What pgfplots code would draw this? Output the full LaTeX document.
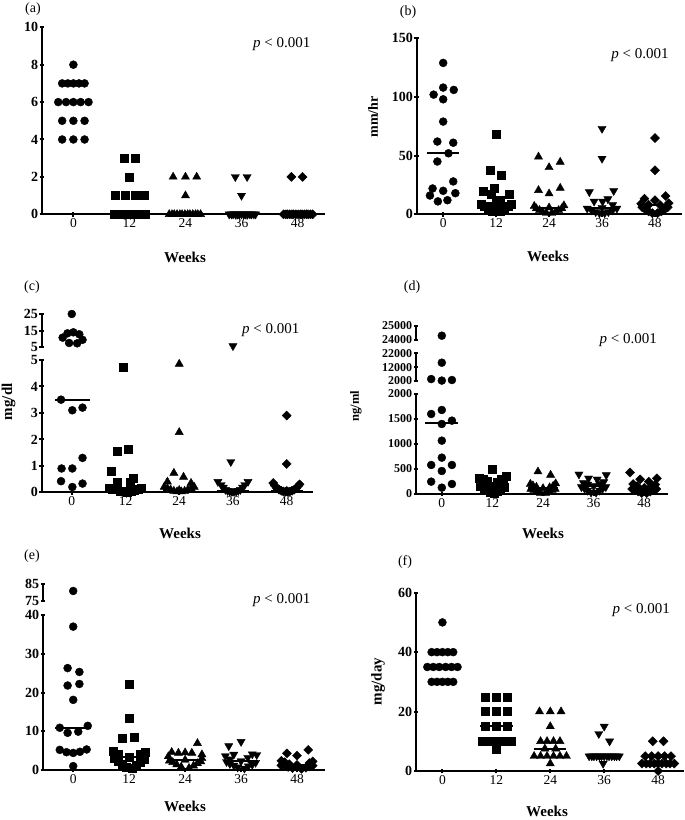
\documentclass[border=0pt]{standalone}
\usepackage{fontspec}
\setmainfont{Liberation Serif}
\usepackage{pgfplots}
\pgfplotsset{compat=1.18}
\pgfplotsset{
  base/.style={scale only axis, clip=false, anchor=south west,
    tick align=outside, major tick length=4.5pt,
    yticklabel={\pgfmathprintnumber[assume math mode=true,1000 sep={}]{\tick}},
    yticklabel style={font=\fontsize{14}{14}\selectfont\bfseries, inner sep=1.5pt},
    scaled y ticks=false},
  lines/.style={axis line style={-, line width=2pt, black},
    every outer x axis line/.append style={-},
    every outer y axis line/.append style={-},
    x axis line style={-}, y axis line style={-},
    tick style={black, line width=2pt}},
  lowax/.style={base, axis x line=bottom, axis y line=left, lines,
    xtick={0,1,2,3,4}, xticklabels={0,12,24,36,48},
    xticklabel style={font=\fontsize{13.5}{13.5}\selectfont, inner sep=2pt}},
  upax/.style={base, axis x line=none, axis y line=left, lines, xtick=\empty},
  circ/.style={only marks, mark=*, mark size=4pt, black, mark options={fill=black}},
  sq/.style={only marks, mark=square*, mark size=4pt, black, mark options={fill=black}},
  tri/.style={only marks, mark=triangle*, mark size=4.7pt, black, mark options={fill=black}},
  dtri/.style={only marks, mark=triangle*, mark size=4.7pt, black, mark options={fill=black, rotate=180}},
  dia/.style={only marks, mark=square*, mark size=3.2pt, black, mark options={fill=black, rotate=45}},
  med/.style={black, line width=2pt, no marks},
}
\newcommand{\pval}{{\itshape p} \textless{} 0.001}
\begin{document}
\begin{tikzpicture}[x=1pt,y=1pt]
\path[use as bounding box] (0,0) rectangle (685,820);

% ---------------- (a)
\begin{axis}[lowax, at={(42pt,605.7pt)}, width=283pt, height=187pt,
  xmin=-0.56, xmax=4.49, ymin=0, ymax=10, ytick={0,2,4,6,8,10}]
\addplot[med] coordinates {(-0.3,6) (0.3,6)};
\addplot[circ] coordinates {(0,8) (-0.2,7) (-0.1,7) (0,7) (0.1,7) (0.2,7)
 (-0.27,6) (-0.13,6) (0,6) (0.13,6) (0.27,6) (-0.2,5) (0,5) (0.2,5) (-0.2,4) (0,4) (0.2,4)};
\addplot[sq] coordinates {(0.9,3) (1.1,3) (1,2) (0.74,1) (0.92,1) (1.1,1) (1.27,1)
 (0.72,0) (0.78,0) (0.84,0) (0.91,0) (0.97,0) (1.03,0) (1.09,0) (1.16,0) (1.22,0) (1.28,0)};
\addplot[tri] coordinates {(1.78,2) (2,2) (2.2,2) (2,1)
 (1.71,0) (1.76,0) (1.80,0) (1.85,0) (1.90,0) (1.94,0) (1.99,0) (2.04,0) (2.08,0) (2.13,0) (2.18,0) (2.22,0) (2.27,0)};
\addplot[dtri] coordinates {(2.89,2) (3.1,2) (3,1)
 (2.78,0) (2.82,0) (2.85,0) (2.89,0) (2.93,0) (2.96,0) (3.0,0) (3.04,0) (3.07,0) (3.11,0) (3.15,0) (3.18,0) (3.22,0) (3.25,0)};
\addplot[dia] coordinates {(3.89,2) (4.09,2)
 (3.75,0) (3.79,0) (3.82,0) (3.86,0) (3.90,0) (3.93,0) (3.97,0) (4.01,0) (4.05,0) (4.08,0) (4.12,0) (4.16,0) (4.19,0) (4.23,0) (4.27,0)};
\end{axis}

% ---------------- (b)
\begin{axis}[lowax, at={(416.7pt,605.7pt)}, width=265.3pt, height=176pt,
  xmin=-0.5, xmax=4.51, ymin=0, ymax=150, ytick={0,50,100,150}]
\addplot[med] coordinates {(-0.3,52) (0.3,52)};
\addplot[med] coordinates {(0.7,10) (1.3,10)};
\addplot[med] coordinates {(1.7,5.7) (2.3,5.7)};
\addplot[med] coordinates {(2.7,5.7) (3.3,5.7)};
\addplot[med] coordinates {(3.7,7.7) (4.3,7.7)};
\addplot[circ] coordinates {(0,129) (-0.18,102) (0,108) (0.2,106) (0,98) (0,79) (-0.11,62) (0.19,61)
 (0.1,52) (-0.11,45) (0.19,28) (-0.2,22) (0,20) (0.23,18) (-0.25,16) (-0.1,11) (0.08,12)};
\addplot[sq] coordinates {(1,68) (0.89,37.5) (1.09,33) (0.75,20) (0.97,22.5) (0.91,17) (1.25,17) (1.08,12) (1,10)
 (0.72,9) (1.28,9) (0.78,7) (1.22,7) (0.85,5) (1.15,5) (0.93,3) (1.07,3)};
\addplot[tri] coordinates {(1.8,49) (2,40) (2.21,44.6) (1.8,20.5) (2,17.6) (2.21,22.4) (1.72,7) (2.28,7.5) (2,5.7)
 (1.76,5) (2.24,5) (1.82,3.5) (2.18,3.5) (1.88,2) (2.12,2) (1.95,1) (2.05,1)};
\addplot[dtri] coordinates {(3,73) (3,47.5) (2.76,19) (3.22,20) (3.11,13) (2.85,11) (3.01,11) (3.2,8) (3,5.7)
 (2.72,5) (3.28,5) (2.8,3.5) (3.2,3.5) (2.88,2) (3.12,2) (2.95,1) (3.05,1)};
\addplot[dia] coordinates {(4,65) (4,37.5) (4.2,15.6) (3.8,13.3) (4,12) (3.74,9) (4.26,9.5) (3.88,8) (4.1,7.7)
 (3.76,6) (4.24,6) (3.82,4) (4.18,4) (3.88,2.5) (4.12,2.5) (3.95,1) (4.05,1)};
\end{axis}

% ---------------- (c) lower
\begin{axis}[lowax, at={(41.7pt,327.7pt)}, width=271.3pt, height=132.3pt,
  xmin=-0.56, xmax=4.49, ymin=0, ymax=5, ytick={0,1,2,3,4,5}]
\addplot[med] coordinates {(-0.31,3.5) (0.33,3.5)};
\addplot[med] coordinates {(0.7,0.1) (1.3,0.1)};
\addplot[med] coordinates {(1.7,0.08) (2.3,0.08)};
\addplot[med] coordinates {(2.7,0.05) (3.3,0.05)};
\addplot[med] coordinates {(3.7,0.05) (4.3,0.05)};
\addplot[circ] coordinates {(-0.2,3.5) (0.01,3.1) (0.2,3.2) (0.2,1.3) (-0.19,0.9) (0.01,0.9) (-0.2,0.42) (0.01,0.2) (0.2,0.33)};
\addplot[sq] coordinates {(0.96,4.71) (0.85,1.54) (1.05,1.63) (0.74,0.78) (0.85,0.4) (1.09,0.4) (1.14,0.53)
 (0.7,0.15) (1.3,0.15) (0.76,0.12) (1.24,0.1) (0.83,0.1) (1.17,0.08) (0.9,0.05) (1.1,0.05) (0.97,0.03) (1.03,0.02)};
\addplot[tri] coordinates {(2,4.85) (2,2.27) (1.9,0.73) (2.08,0.58) (1.78,0.4) (2.22,0.35)
 (1.72,0.2) (2.28,0.2) (1.78,0.15) (2.22,0.15) (1.84,0.1) (2.16,0.1) (1.9,0.05) (2.1,0.05) (1.96,0.03) (2.04,0.03) (2,0.08)};
\addplot[dtri] coordinates {(2.96,1.15) (2.72,0.4) (3.28,0.4)
 (2.78,0.28) (3.22,0.28) (2.82,0.18) (3.18,0.18) (2.86,0.1) (3.14,0.1) (2.9,0.06) (3.1,0.06) (2.94,0.03) (3.06,0.03) (2.98,0.02) (3.02,0.02) (3,0.05)};
\addplot[dia] coordinates {(4,2.9) (4,1.07) (3.75,0.35) (4.24,0.3)
 (3.78,0.25) (4.22,0.25) (3.82,0.15) (4.18,0.15) (3.86,0.1) (4.14,0.1) (3.9,0.06) (4.1,0.06) (3.94,0.03) (4.06,0.03) (3.98,0.02) (4.02,0.02) (4,0.05)};
\end{axis}
% ---------------- (c) upper
\begin{axis}[upax, at={(41.7pt,472.7pt)}, width=271.3pt, height=33.3pt,
  xmin=-0.56, xmax=4.49, ymin=5, ymax=25, ytick={5,15,25}]
\addplot[circ] coordinates {(0,25) (-0.17,10.8) (-0.08,13.4) (0.03,14) (0.14,12.8) (0.2,9.5) (0.1,7.4) (-0.05,7.6)};
\addplot[dtri] coordinates {(3,5.8)};
\end{axis}

% ---------------- (d) lower
\begin{axis}[lowax, at={(416pt,326pt)}, width=252pt, height=100pt,
  xmin=-0.51, xmax=4.47, ymin=0, ymax=2000, ytick={0,500,1000,1500,2000},
  yticklabel style={font=\fontsize{12}{12}\selectfont\bfseries}]
\addplot[med] coordinates {(-0.33,1413) (0.32,1413)};
\addplot[med] coordinates {(0.7,160) (1.3,160)};
\addplot[med] coordinates {(1.7,113) (2.3,113)};
\addplot[med] coordinates {(2.7,160) (3.3,160)};
\addplot[med] coordinates {(3.7,113) (4.3,113)};
\addplot[circ] coordinates {(0,1680) (-0.21,1600) (0.2,1467) (0,1400) (0,1067) (0,727) (-0.21,580) (0.2,580)
 (0,460) (-0.21,247) (0.2,200) (0,127)};
\addplot[sq] coordinates {(1,493) (1.27,350) (0.73,320) (0.82,290) (1.18,300) (0.9,260) (1.1,240) (1.22,200) (1,160)
 (0.76,150) (1.24,130) (0.84,110) (1.16,100) (0.9,70) (1.1,60) (0.96,30) (1.04,20)};
\addplot[tri] coordinates {(1.9,447) (2.15,380) (2.25,210) (1.75,200) (1.8,170) (2.2,160) (1.87,140) (2.13,130) (2,113)
 (1.76,100) (2.24,100) (1.82,80) (2.18,80) (1.88,50) (2.12,50) (1.95,20) (2.05,20)};
\addplot[dtri] coordinates {(2.71,393) (2.9,313) (3.07,293) (3.25,380) (2.8,220) (3.2,240) (2.88,190) (3.12,200) (3,160)
 (2.76,140) (3.24,140) (2.82,110) (3.18,110) (2.88,70) (3.12,70) (2.95,30) (3.05,30)};
\addplot[dia] coordinates {(3.72,430) (3.92,293) (4.09,247) (4.25,313) (3.78,200) (4.22,190) (3.86,160) (4.14,150) (4,120)
 (3.76,100) (4.24,100) (3.82,80) (4.18,80) (3.88,50) (4.12,50) (3.95,20) (4.05,20)};
\end{axis}
% ---------------- (d) middle
\begin{axis}[upax, at={(416pt,439pt)}, width=252pt, height=27.7pt,
  xmin=-0.51, xmax=4.47, ymin=2000, ymax=22000, ytick={2000,12000,22000},
  yticklabel style={font=\fontsize{12}{12}\selectfont\bfseries}]
\addplot[circ] coordinates {(0,15200) (-0.21,3400) (0,2300) (0.2,2700)};
\end{axis}
% ---------------- (d) top
\begin{axis}[upax, at={(416pt,480pt)}, width=252pt, height=14.3pt,
  xmin=-0.51, xmax=4.47, ymin=24000, ymax=25000, ytick={24000,25000},
  yticklabel style={font=\fontsize{12}{12}\selectfont\bfseries}]
\addplot[circ] coordinates {(0,24300)};
\end{axis}

% ---------------- (e) lower
\begin{axis}[lowax, at={(43pt,50pt)}, width=282pt, height=155pt,
  xmin=-0.54, xmax=4.5, ymin=0, ymax=40, ytick={0,10,20,30,40}]
\addplot[med] coordinates {(-0.32,10.9) (0.32,10.9)};
\addplot[med] coordinates {(0.68,3.4) (1.32,3.4)};
\addplot[med] coordinates {(1.7,2.6) (2.3,2.6)};
\addplot[med] coordinates {(2.7,2.3) (3.3,2.3)};
\addplot[med] coordinates {(3.7,1.3) (4.3,1.3)};
\addplot[circ] coordinates {(0,37) (-0.1,26.3) (0.11,25.3) (-0.1,21.8) (0.11,22.2) (0,18.1) (-0.24,10.9) (0.26,11.4)
 (-0.1,9.6) (0.09,9.9) (-0.24,5.2) (-0.12,4.6) (0,4.4) (0.12,4.7) (0.24,5.3) (0,1)};
\addplot[sq] coordinates {(1,22.1) (1,13.4) (0.87,8.2) (1.09,8.4) (0.72,4.8) (1.28,4.5) (0.8,4.2) (1.2,4) (1,3.4)
 (0.74,3) (1.26,2.7) (0.8,2.4) (1.2,2) (0.87,1.6) (1.13,1.2) (0.94,0.8) (1.06,0.5)};
\addplot[tri] coordinates {(2.22,6.9) (1.76,4.6) (1.88,4.4) (2.0,4.5) (2.12,4.4) (2.3,4.0) (1.7,3.5) (2.3,3.0) (2,2.6)
 (1.72,2.4) (2.28,2.2) (1.78,2) (2.22,1.7) (1.85,1.4) (2.15,1.1) (1.93,0.8) (2.07,0.5)};
\addplot[dtri] coordinates {(3,7.3) (2.78,6.2) (2.87,4.0) (3.2,4.1) (3.28,3.9) (2.72,3.6) (3.12,3.2) (2.8,2.8) (3,2.3)
 (2.74,2.1) (3.26,1.9) (2.8,1.6) (3.2,1.4) (2.87,1.2) (3.13,1.0) (2.94,0.7) (3.06,0.4)};
\addplot[dia] coordinates {(4.2,5.2) (3.82,4.3) (4,3.7) (3.72,2.4) (4.28,2.2) (3.78,2) (4.22,1.8) (3.86,1.5) (4,1.3)
 (3.72,1.2) (4.28,1.1) (3.78,1.0) (4.22,0.9) (3.84,0.8) (4.16,0.6) (3.92,0.5) (4.08,0.3)};
\end{axis}
% ---------------- (e) upper
\begin{axis}[upax, at={(43pt,219pt)}, width=282pt, height=16.7pt,
  xmin=-0.54, xmax=4.5, ymin=75, ymax=85, ytick={75,85}]
\addplot[circ] coordinates {(0,81)};
\end{axis}

% ---------------- (f)
\begin{axis}[lowax, at={(416pt,49pt)}, width=268pt, height=178.3pt,
  xmin=-0.49, xmax=4.48, ymin=0, ymax=60, ytick={0,20,40,60}]
\addplot[med] coordinates {(-0.3,35) (0.3,35)};
\addplot[med] coordinates {(0.7,15) (1.3,15)};
\addplot[med] coordinates {(1.7,7.5) (2.3,7.5)};
\addplot[med] coordinates {(2.7,5) (3.3,5)};
\addplot[med] coordinates {(3.7,2.5) (4.3,2.5)};
\addplot[circ] coordinates {(0,50) (-0.2,40) (-0.1,40) (0,40) (0.1,40) (0.2,40)
 (-0.28,35) (-0.17,35) (-0.06,35) (0.06,35) (0.17,35) (0.28,35)
 (-0.2,30) (-0.1,30) (0,30) (0.1,30) (0.2,30)};
\addplot[sq] coordinates {(0.8,25) (1,25) (1.2,25) (0.8,20) (1,20) (1.2,20) (0.8,15) (1,15) (1.2,15)
 (0.73,10) (0.82,10) (0.91,10) (1,10) (1.09,10) (1.18,10) (1.27,10) (1,7.5)};
\addplot[tri] coordinates {(1.8,20) (2,20) (2.2,20) (2,15) (1.82,10) (1.94,10) (2.06,10) (2.18,10) (1.9,7.5) (2.1,7.5)
 (1.7,5) (1.82,5) (1.94,5) (2.06,5) (2.18,5) (2.3,5) (2,2.5)};
\addplot[dtri] coordinates {(3,15) (2.9,12.5) (3.1,10)
 (2.72,5) (2.77,5) (2.81,5) (2.86,5) (2.91,5) (2.95,5) (3,5) (3.05,5) (3.09,5) (3.14,5) (3.19,5) (3.23,5) (3.28,5) (2.98,2.5)};
\addplot[dia] coordinates {(3.9,10) (4.1,10) (3.76,5) (3.88,5) (4,5) (4.12,5) (4.24,5)
 (3.7,2.5) (3.78,2.5) (3.85,2.5) (3.93,2.5) (4,2.5) (4.07,2.5) (4.15,2.5) (4.22,2.5) (4.3,2.5) (4,0)};
\end{axis}

% ---------------- labels
\begin{scope}[every node/.style={inner sep=0pt}]
\node[font=\fontsize{14}{14}\selectfont] at (33,811) {(a)};
\node[font=\fontsize{14}{14}\selectfont] at (408,808) {(b)};
\node[font=\fontsize{14}{14}\selectfont] at (32,533.3) {(c)};
\node[font=\fontsize{14}{14}\selectfont] at (412,532.5) {(d)};
\node[font=\fontsize{14}{14}\selectfont] at (32,264) {(e)};
\node[font=\fontsize{14}{14}\selectfont] at (405,257.5) {(f)};
\node[font=\fontsize{15}{15}\selectfont, anchor=base] at (281.7,772.3) {\pval};
\node[font=\fontsize{15}{15}\selectfont, anchor=base] at (640,761.7) {\pval};
\node[font=\fontsize{15}{15}\selectfont, anchor=base] at (270.8,486.7) {\pval};
\node[font=\fontsize{15}{15}\selectfont, anchor=base] at (628.3,476) {\pval};
\node[font=\fontsize{15}{15}\selectfont, anchor=base] at (281.7,216.7) {\pval};
\node[font=\fontsize{15}{15}\selectfont, anchor=base] at (641.3,206.7) {\pval};
\node[font=\fontsize{15}{15}\selectfont\bfseries] at (185,562.5) {Weeks};
\node[font=\fontsize{15}{15}\selectfont\bfseries] at (548,563.3) {Weeks};
\node[font=\fontsize{15}{15}\selectfont\bfseries] at (180,286.7) {Weeks};
\node[font=\fontsize{15}{15}\selectfont\bfseries] at (543,286.7) {Weeks};
\node[font=\fontsize{15}{15}\selectfont\bfseries] at (185,13.3) {Weeks};
\node[font=\fontsize{15}{15}\selectfont\bfseries] at (547,8.3) {Weeks};
\node[font=\fontsize{14}{14}\selectfont\bfseries, rotate=90] at (373,703) {mm/hr};
\node[font=\fontsize{15}{15}\selectfont\bfseries, rotate=90] at (8.5,418.3) {mg/dl};
\node[font=\fontsize{12.5}{12.5}\selectfont\bfseries, rotate=90] at (356,414) {ng/ml};
\node[font=\fontsize{15}{15}\selectfont\bfseries, rotate=90] at (378,138.3) {mg/day};
\end{scope}
\end{tikzpicture}
\end{document}
